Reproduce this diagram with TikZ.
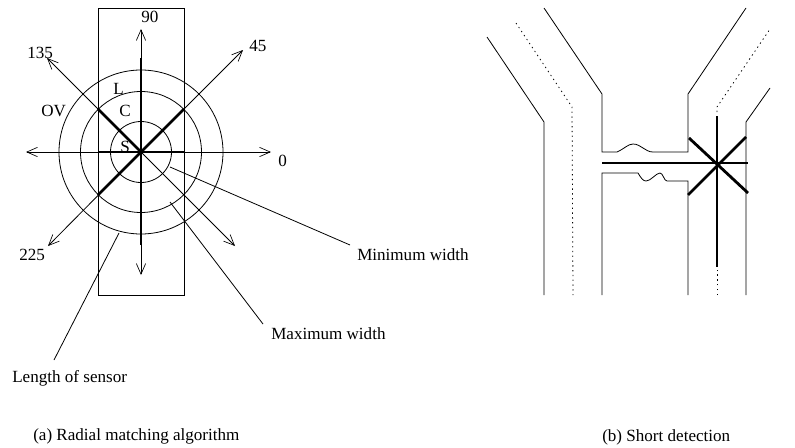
\documentclass[tikz,border=0pt]{standalone}
\usepackage{fontspec}
\setmainfont{Liberation Serif}
\usetikzlibrary{arrows.meta}
\tikzset{
  x=0.75pt,y=-0.75pt,
  thin line/.style={line width=0.6pt,black},
  thick ray/.style={line width=2.1pt,black},
  ray/.style={thin line,-{Straight Barb[length=8pt,width=7pt,line width=0.5pt]}},
  dotted line/.style={line width=0.6pt,dash pattern=on 1pt off 2.6pt},
  txt/.style={font=\fontsize{12.8pt}{15pt}\selectfont,inner sep=0pt,anchor=base west}
}
\begin{document}
\begin{tikzpicture}
\useasboundingbox (0,0) rectangle (795,447);
% ---------- (a)
\coordinate (c) at (141,152);
\draw[thin line] (98,8) rectangle (184,295);
\draw[thin line] (c) circle[radius=30.5];
\draw[thin line] (c) circle[radius=60.5];
\draw[thin line] (c) circle[radius=82];
\coordinate (a0) at (271,152);
\coordinate (a45) at (243,50);
\coordinate (a90) at (141,29);
\coordinate (a135) at (47,58);
\coordinate (a180) at (26,152);
\coordinate (a225) at (48,246);
\coordinate (a270) at (141,275);
\coordinate (a315) at (235,246);
\foreach \e in {a0,a45,a90,a135,a180,a225,a270,a315} \draw[ray] (c) -- (\e);
\coordinate (t90) at (141,58);
\coordinate (t270) at (141,245);
\coordinate (t0) at (184,152);
\coordinate (t180) at (98,152);
\coordinate (t45) at (184,109);
\coordinate (t135) at (98,109);
\coordinate (t225) at (98,195);
\foreach \e in {t0,t45,t90,t135,t180,t225,t270} \draw[thick ray] (c) -- (\e);
\node[txt] (l90) at (141,22) {90};
\node[txt] (l45) at (249,51) {45};
\node[txt] (l135) at (27,58) {135};
\node[txt] (l0) at (278,166) {0};
\node[txt] (l225) at (19,260) {225};
\node[txt] (lOV) at (41,116) {OV};
\node[txt] (lL) at (113,94) {L};
\node[txt] (lC) at (119,116) {C};
\node[txt] (lS) at (120,152) {S};
\node[txt] (lmin) at (357,260) {Minimum width};
\node[txt] (lmax) at (271,339) {Maximum width};
\node[txt] (llen) at (12,382) {Length of sensor};
\node[txt] (capa) at (33,440) {(a) Radial matching algorithm};
\node[txt] (capb) at (602,441) {(b) Short detection};
\coordinate (p1) at (170,167);
\coordinate (p2) at (170,202);
\coordinate (p3) at (119,233);
\coordinate (q1) at (350,245);
\coordinate (q2) at (263,324);
\coordinate (q3) at (54,360);
\draw[thin line] (p1) -- (q1);
\draw[thin line] (p2) -- (q2);
\draw[thin line] (p3) -- (q3);
% ---------- (b)
\draw[thin line] (487,37) -- (544,122) -- (544,295);
\draw[dotted line] (516,23) -- (572,107) -- (573,295);
\draw[thin line] (544,8) -- (602,94) -- (602,152) -- (617,152)
  .. controls (624,149) and (628,144) .. (633,144)
  .. controls (641,144) and (645,152) .. (653,152) -- (688,152) -- (688,94) -- (746,8);
\draw[thin line] (602,295) -- (602,173) -- (638,173)
  .. controls (641,178) and (643,181) .. (646,181)
  .. controls (651,181) and (656,173) .. (660,173)
  .. controls (663,173) and (664,181) .. (667,181) -- (688,181) -- (688,295);
\draw[thin line] (746,295) -- (746,122) -- (770,88);
\draw[dotted line] (717,295) -- (717,268);
\draw[dotted line] (717,112) -- (717,107) -- (770,29);
\coordinate (h1) at (602,163);
\coordinate (h2) at (748,163);
\coordinate (v1) at (717,116);
\coordinate (v2) at (717,267);
\coordinate (d1) at (689,138);
\coordinate (d2) at (748,193);
\coordinate (d3) at (688,195);
\coordinate (d4) at (746,137);
\draw[thick ray] (h1) -- (h2);
\draw[thick ray] (v1) -- (v2);
\draw[thick ray] (d1) -- (d2);
\draw[thick ray] (d3) -- (d4);
\end{tikzpicture}
\end{document}
